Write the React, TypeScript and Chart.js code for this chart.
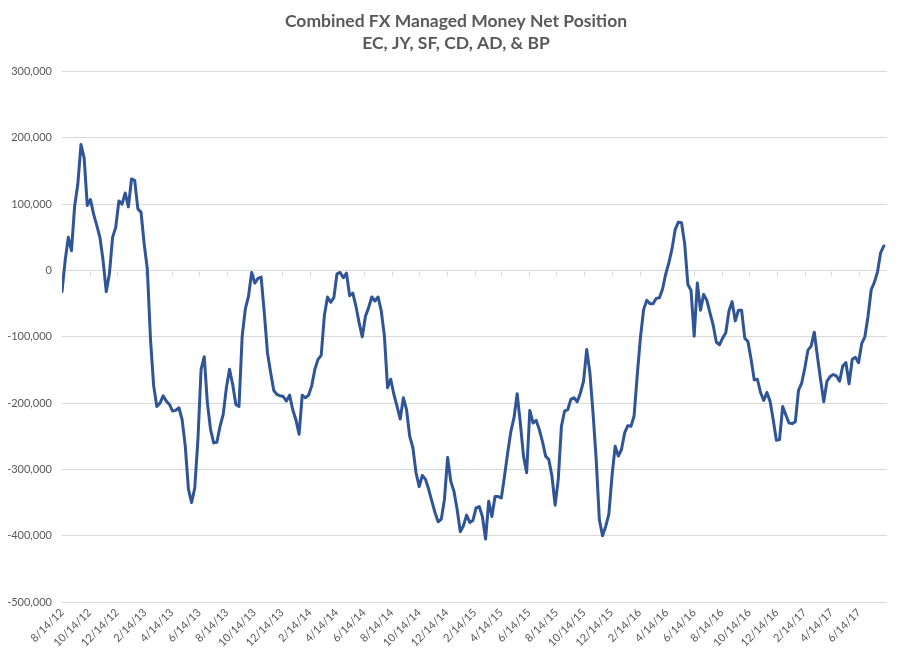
import React, { useEffect, useRef } from 'react';
import { Chart, registerables } from 'chart.js';

Chart.register(...registerables);

// ---- Data (weekly, starting 8/14/12) ----
const chartTitle = ['Combined FX Managed Money Net Position', 'EC, JY, SF, CD, AD, & BP'];
const firstWeek = '8/14/12';
const axisEnd = '8/15/17';

const net2012 = [
  -32000, 15000, 50000, 30000, 97000, 130000, 190000, 170000, 98000, 107000,
  85000, 68000, 50000, 15000, -32000, -5000, 50000, 65000, 105000, 100000,
];
const net2013 = [
  117000, 96000, 138000, 136000, 93000, 88000, 40000, 2000, -104000, -174000,
  -205000, -200000, -189000, -197000, -202000, -212000, -211000, -207000, -225000, -265000,
  -330000, -350000, -328000, -255000, -149000, -130000, -200000, -240000, -260000, -259000,
  -235000, -217000, -177000, -149000, -172000, -202000, -205000, -99000, -58000, -39000,
  -3000, -19000, -12000, -10000, -64000, -124000, -154000, -181000, -187000, -189000,
  -190000, -197000, -188000,
];
const net2014 = [
  -210000, -225000, -247000, -188000, -192000, -188000, -174000, -149000, -134000, -128000,
  -68000, -40000, -48000, -41000, -5000, -3000, -11000, -4000, -38000, -34000,
  -54000, -79000, -100000, -69000, -56000, -40000, -46000, -40000, -61000, -99000,
  -177000, -164000, -187000, -205000, -224000, -192000, -210000, -250000, -267000, -305000,
  -326000, -309000, -315000, -330000, -348000, -365000, -379000, -375000, -345000, -282000,
  -318000, -333000,
];
const net2015 = [
  -360000, -394000, -385000, -369000, -380000, -377000, -358000, -356000, -371000, -405000,
  -348000, -371000, -341000, -341000, -343000, -310000, -275000, -243000, -222000, -186000,
  -230000, -280000, -305000, -211000, -230000, -226000, -240000, -258000, -280000, -285000,
  -310000, -354000, -315000, -235000, -212000, -210000, -194000, -192000, -198000, -185000,
  -167000, -119000, -154000, -215000, -285000, -376000, -400000, -386000, -368000, -310000,
  -265000, -280000,
];
const net2016 = [
  -270000, -245000, -234000, -235000, -219000, -157000, -101000, -59000, -45000, -50000,
  -50000, -42000, -41000, -28000, -5000, 12000, 33000, 62000, 73000, 72000,
  40000, -21000, -30000, -99000, -19000, -60000, -36000, -45000, -64000, -82000,
  -108000, -112000, -102000, -94000, -61000, -47000, -76000, -60000, -60000, -102000,
  -107000, -134000, -165000, -164000, -184000, -196000, -184000, -197000, -225000, -256000,
  -255000, -205000,
];
const net2017 = [
  -218000, -230000, -231000, -228000, -181000, -170000, -147000, -120000, -114000, -93000,
  -130000, -165000, -198000, -167000, -160000, -157000, -159000, -167000, -144000, -139000,
  -171000, -134000, -131000, -139000, -110000, -100000, -69000, -29000, -18000, -2000,
  27000, 37000,
];

const xTickLabels = [
  '8/14/12', '10/14/12', '12/14/12', '2/14/13', '4/14/13', '6/14/13', '8/14/13', '10/14/13',
  '12/14/13', '2/14/14', '4/14/14', '6/14/14', '8/14/14', '10/14/14', '12/14/14', '2/14/15',
  '4/14/15', '6/14/15', '8/14/15', '10/14/15', '12/14/15', '2/14/16', '4/14/16', '6/14/16',
  '8/14/16', '10/14/16', '12/14/16', '2/14/17', '4/14/17', '6/14/17',
];

const yMin = -500000;
const yMax = 300000;
const yStep = 100000;

// ---- helpers ----
const toUTC = (s: string) => {
  const [m, d, y] = s.split('/').map(Number);
  return Date.UTC(2000 + y, m - 1, d);
};
const dayOffset = (s: string) => Math.round((toUTC(s) - toUTC(firstWeek)) / 86400000);

const GRID = '#D9D9D9';
const TEXT = '#595959';
const LINE = '#2F5597';

const zeroAxisTicks = {
  id: 'zeroAxisTicks',
  beforeDatasetsDraw(chart: any) {
    const { ctx, scales } = chart;
    const x = scales.x;
    const y = scales.y;
    const y0 = Math.round(y.getPixelForValue(0)) + 0.5;
    ctx.save();
    ctx.strokeStyle = GRID;
    ctx.lineWidth = 1;
    x.ticks.forEach((t: any) => {
      const px = Math.round(x.getPixelForValue(t.value)) + 0.5;
      ctx.beginPath();
      ctx.moveTo(px, y0);
      ctx.lineTo(px, y0 + 5);
      ctx.stroke();
    });
    ctx.restore();
  },
};

export default function App() {
  const canvasRef = useRef<HTMLCanvasElement | null>(null);

  useEffect(() => {
    if (!canvasRef.current) return;
    const values = [...net2012, ...net2013, ...net2014, ...net2015, ...net2016, ...net2017];
    const points = values.map((v, i) => ({ x: i * 7, y: v }));
    const tickDays = xTickLabels.map(dayOffset);
    const labelByDay = new Map<number, string>();
    xTickLabels.forEach((l, i) => labelByDay.set(tickDays[i], l));

    const chart = new Chart(canvasRef.current, {
      type: 'line',
      data: {
        datasets: [
          {
            data: points,
            borderColor: LINE,
            borderWidth: 3,
            pointRadius: 0,
            tension: 0,
            fill: false,
            borderJoinStyle: 'round',
            borderCapStyle: 'round',
          },
        ],
      },
      options: {
        animation: false,
        responsive: false,
        devicePixelRatio: 1,
        layout: { padding: { left: 0, right: 0, top: 0, bottom: 0 } },
        plugins: {
          legend: { display: false },
          tooltip: { enabled: false },
          title: {
            display: true,
            text: chartTitle,
            color: TEXT,
            font: { family: 'Lato', size: 17.5, weight: 'bold', lineHeight: 1.26 },
            padding: { top: 10, bottom: 17.5 },
          },
        },
        scales: {
          x: {
            type: 'linear',
            min: 0,
            max: dayOffset(axisEnd),
            bounds: 'data',
            grid: { display: false, drawTicks: false },
            border: { display: false },
            afterBuildTicks: (s: any) => {
              s.ticks = tickDays.map((v) => ({ value: v }));
            },
            afterFit: (s: any) => {
              s.height = 60;
            },
            ticks: {
              autoSkip: false,
              maxRotation: 45,
              minRotation: 45,
              padding: 4,
              color: TEXT,
              font: { family: 'Lato', size: 11 },
              callback: (v: any) => labelByDay.get(Number(v)) ?? '',
            },
          },
          y: {
            min: yMin,
            max: yMax,
            grid: { color: GRID, drawTicks: false, lineWidth: 1 },
            border: { display: false },
            afterFit: (s: any) => {
              s.width = 62;
            },
            ticks: {
              stepSize: yStep,
              padding: 10,
              color: TEXT,
              font: { family: 'Lato', size: 11 },
              callback: (v: any) => Number(v).toLocaleString('en-US'),
            },
          },
          rightGap: {
            position: 'right',
            display: true,
            grid: { display: false, drawTicks: false },
            border: { display: false },
            ticks: { display: false },
            afterFit: (s: any) => {
              s.width = 25;
            },
          },
        },
      } as any,
      plugins: [zeroAxisTicks],
    });
    return () => chart.destroy();
  }, []);

  return (
    <div style={{ position: 'fixed', left: 0, top: 0, width: 912, height: 662, background: '#fff' }}>
      <canvas ref={canvasRef} width={912} height={662} style={{ width: 912, height: 662 }} />
    </div>
  );
}
